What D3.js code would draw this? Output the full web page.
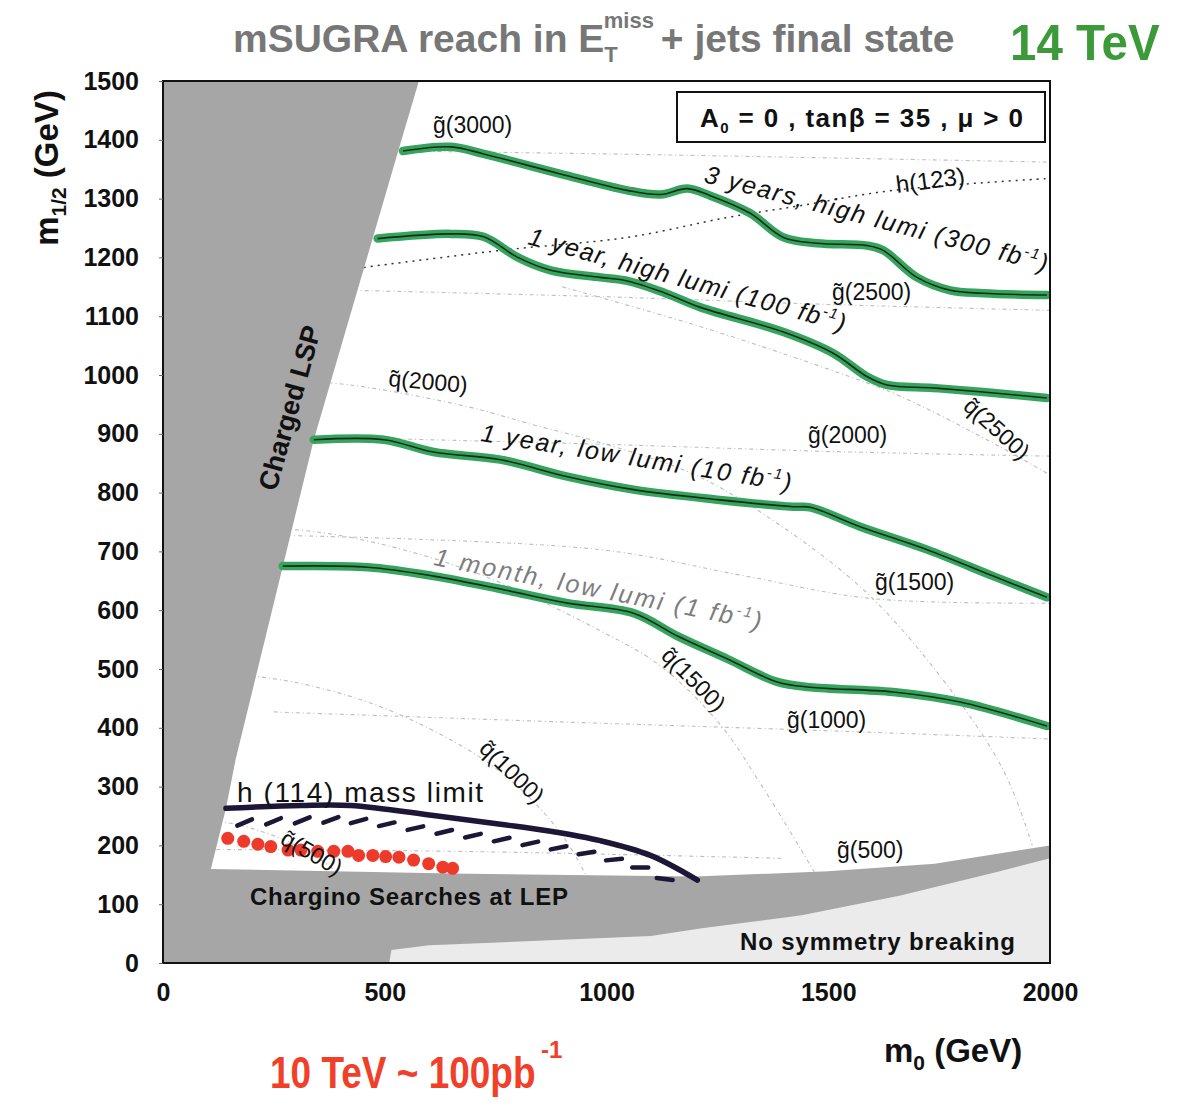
<!DOCTYPE html>
<html>
<head>
<meta charset="utf-8">
<script src="https://cdn.jsdelivr.net/npm/d3@7"></script>
<style>
  body { margin: 0; background: #fff; }
  svg text { font-family: 'Liberation Sans', Arial, Helvetica, sans-serif; }
</style>
</head>
<body>
<svg id="chart" width="1184" height="1105"></svg>
<script>
// mSUGRA reach plot (m0, m1/2), in GeV

const xTickValues = [0, 500, 1000, 1500, 2000];
const yTickValues = [0, 100, 200, 300, 400, 500, 600, 700, 800, 900, 1000, 1100, 1200, 1300, 1400, 1500];

// excluded / special regions
const lspEdge = [[577, 1500], [537, 1398], [340, 890], [164, 347], [142, 263], [108, 160]];
const charginoEdge = [[108, 160], [650, 152], [1200, 147], [1500, 156], [1740, 169], [2000, 200]];
const noEwsbEdge = [[510, 0], [515, 22], [600, 30], [1100, 46], [1215, 59], [1440, 81], [1663, 115], [1887, 156], [2000, 178]];

// 5 sigma reach contours
const reach300 = [[541, 1381], [649, 1388], [723, 1376], [896, 1342], [1047, 1314], [1122, 1307], [1182, 1317], [1234, 1305], [1324, 1275], [1399, 1234], [1475, 1224], [1588, 1220], [1624, 1212], [1700, 1166], [1775, 1144], [1849, 1139], [1993, 1136]];
const reach100 = [[484, 1232], [649, 1240], [723, 1235], [800, 1200], [874, 1178], [986, 1166], [1047, 1160], [1130, 1140], [1212, 1115], [1399, 1073], [1511, 1037], [1588, 997], [1633, 983], [1736, 978], [1849, 971], [1993, 961]];
const reach10 = [[340, 890], [498, 890], [610, 869], [761, 856], [912, 827], [1061, 805], [1250, 788], [1421, 776], [1459, 775], [1572, 742], [1723, 703], [1872, 658], [1993, 622]];
const reach1 = [[270, 675], [462, 673], [610, 658], [761, 636], [912, 612], [1061, 595], [1160, 556], [1273, 517], [1385, 478], [1459, 469], [1646, 461], [1797, 444], [1993, 403]];

// LEP higgs limit and the 10 TeV / 100 pb-1 points
const higgsLimit = [[142, 263], [311, 268], [423, 268], [610, 251], [761, 236], [874, 224], [986, 208], [1099, 183], [1205, 141]];
const reach10TeV = [[146, 212], [182, 207], [214, 202], [243, 198], [282, 192], [311, 192], [349, 190], [385, 190], [417, 190], [441, 183], [473, 183], [502, 181], [532, 180], [565, 175], [599, 169], [631, 163], [653, 161]];

// iso-mass contours
const gluino3000 = [[520, 1381], [1000, 1376], [2000, 1362]];
const gluino2500 = [[430, 1144], [1000, 1133], [1500, 1120], [2000, 1110]];
const gluino2000 = [[330, 895], [1000, 882], [1500, 870], [2000, 862]];
const gluino1500 = [[280, 727], [986, 703], [1300, 660], [1595, 620], [2000, 612]];
const gluino1000 = [[250, 427], [900, 410], [1500, 395], [2000, 381]];
const gluino500 = [[120, 193], [650, 190], [1000, 185], [1400, 178]];
const squark500 = [[100, 245], [200, 229], [300, 200], [400, 150], [450, 109]];
const squark1000 = [[100, 496], [300, 477], [500, 433], [700, 357], [800, 300], [900, 218], [960, 140]];
const squark1500 = [[100, 748], [400, 727], [700, 665], [986, 565], [1122, 505], [1257, 405], [1347, 305], [1437, 195], [1480, 140]];
const squark2000 = [[200, 995], [423, 983], [687, 946], [836, 915], [986, 885], [1200, 830], [1400, 740], [1600, 620], [1800, 440], [1900, 320], [1960, 200]];
const squark2500 = [[900, 1150], [1200, 1085], [1500, 1010], [1662, 964], [1887, 878], [2000, 830]];
const higgs123 = [[453, 1183], [761, 1212], [1047, 1234], [1273, 1268], [1437, 1288], [1646, 1314], [1993, 1334]];

const svg = d3.select('#chart');

const x = d3.scaleLinear().domain([0, 2000]).range([163, 1050]);
const y = d3.scaleLinear().domain([0, 1500]).range([963, 81]);

const poly = d3.line().x(d => x(d[0])).y(d => y(d[1]));
const smooth = d3.line().x(d => x(d[0])).y(d => y(d[1])).curve(d3.curveCatmullRom.alpha(0.5));

const plot = svg.append('g');

// background: everything excluded is dark grey
plot.append('rect')
    .attr('x', x(0)).attr('y', y(1500))
    .attr('width', x(2000) - x(0)).attr('height', y(0) - y(1500))
    .attr('fill', '#a6a6a6');

const allowed = lspEdge.concat(charginoEdge.slice(1), [[2000, 1500]]);
plot.append('path')
    .attr('d', poly(allowed) + 'Z')
    .attr('fill', '#ffffff');

plot.append('path')
    .attr('d', poly(noEwsbEdge.concat([[2000, 0]])) + 'Z')
    .attr('fill', '#ebebeb');

svg.append('defs').append('clipPath')
    .attr('id', 'allowedClip')
    .append('path')
    .attr('d', poly(allowed) + 'Z');

// faint iso-mass lines
const contours = plot.append('g').attr('clip-path', 'url(#allowedClip)');
[gluino3000, gluino2500, gluino2000, gluino1500, gluino1000, gluino500,
 squark500, squark1000, squark1500, squark2000, squark2500].forEach(c => {
    contours.append('path')
        .datum(c)
        .attr('d', smooth)
        .attr('fill', 'none')
        .attr('stroke', '#bdbdbd')
        .attr('stroke-width', 1.1)
        .attr('stroke-dasharray', '4,3,1,3');
});

contours.append('path')
    .datum(higgs123)
    .attr('d', smooth)
    .attr('fill', 'none')
    .attr('stroke', '#333')
    .attr('stroke-width', 1.5)
    .attr('stroke-dasharray', '2,5');

// reach curves: green marker over black line
[reach300, reach100, reach10, reach1].forEach(c => {
    plot.append('path')
        .datum(c)
        .attr('d', smooth)
        .attr('fill', 'none')
        .attr('stroke', '#35a55e')
        .attr('stroke-width', 8.5)
        .attr('stroke-linecap', 'round');
    plot.append('path')
        .datum(c)
        .attr('d', smooth)
        .attr('fill', 'none')
        .attr('stroke', '#1b2a1b')
        .attr('stroke-width', 1.6);
});

// h(114) limit with hatching
const hPath = plot.append('path')
    .datum(higgsLimit)
    .attr('d', smooth)
    .attr('fill', 'none')
    .attr('stroke', '#1d1636')
    .attr('stroke-width', 5.5)
    .attr('stroke-linecap', 'round');

const hNode = hPath.node();
const hLen = hNode.getTotalLength();
d3.range(18, hLen - 12, 29).forEach(l => {
    const p = hNode.getPointAtLength(l);
    const q = hNode.getPointAtLength(l + 1);
    const ang = Math.atan2(q.y - p.y, q.x - p.x);
    const cx = p.x - Math.sin(ang) * 15;
    const cy = p.y + Math.cos(ang) * 15;
    const a2 = ang - 0.36;
    plot.append('line')
        .attr('x1', cx - Math.cos(a2) * 8).attr('y1', cy - Math.sin(a2) * 8)
        .attr('x2', cx + Math.cos(a2) * 8).attr('y2', cy + Math.sin(a2) * 8)
        .attr('stroke', '#1d1636')
        .attr('stroke-width', 4.5)
        .attr('stroke-linecap', 'round');
});

// red points
plot.selectAll('.dot')
    .data(reach10TeV)
    .enter().append('circle')
    .attr('class', 'dot')
    .attr('cx', d => x(d[0]))
    .attr('cy', d => y(d[1]))
    .attr('r', 6.5)
    .attr('fill', '#ee3a2a');

// frame
svg.append('rect')
    .attr('x', x(0)).attr('y', y(1500))
    .attr('width', x(2000) - x(0)).attr('height', y(0) - y(1500))
    .attr('fill', 'none')
    .attr('stroke', '#111')
    .attr('stroke-width', 2);

// axes
const xAxis = svg.append('g')
    .attr('transform', `translate(0,${y(0)})`)
    .call(d3.axisBottom(x).tickValues(xTickValues).tickSize(0).tickPadding(20).tickFormat(d3.format('d')));
const yAxis = svg.append('g')
    .attr('transform', `translate(${x(0)},0)`)
    .call(d3.axisLeft(y).tickValues(yTickValues).tickSize(4).tickPadding(20).tickFormat(d3.format('d')));
[xAxis, yAxis].forEach(a => {
    a.select('.domain').remove();
    a.selectAll('text')
        .attr('font-family', 'Liberation Sans, Arial, sans-serif')
        .attr('font-size', 25)
        .attr('font-weight', 'bold')
        .attr('fill', '#111');
    a.selectAll('line').attr('stroke', '#666');
});

// axis titles
const yTitle = svg.append('text')
    .attr('transform', 'translate(58,168) rotate(-90)')
    .attr('text-anchor', 'middle')
    .attr('font-weight', 'bold')
    .attr('font-size', 33)
    .attr('fill', '#111');
yTitle.append('tspan').text('m');
yTitle.append('tspan').attr('font-size', 21).attr('dy', 8).text('1/2');
yTitle.append('tspan').attr('dy', -8).text('  (GeV)');

const xTitle = svg.append('text')
    .attr('x', 884).attr('y', 1062)
    .attr('font-weight', 'bold')
    .attr('font-size', 33)
    .attr('fill', '#111');
xTitle.append('tspan').text('m');
xTitle.append('tspan').attr('font-size', 21).attr('dy', 8).text('0');
xTitle.append('tspan').attr('dy', -8).text('   (GeV)');

// title
const title = svg.append('text')
    .attr('x', 233).attr('y', 52)
    .attr('font-size', 39)
    .attr('font-weight', 'bold')
    .attr('fill', '#777');
title.append('tspan').text('mSUGRA reach in E');
title.append('tspan').attr('font-size', 22).attr('dy', 10).text('T');
title.append('tspan').attr('font-size', 22).attr('dx', -14).attr('dy', -34).text('miss');
title.append('tspan').attr('dy', 24).attr('dx', -4).text(' + jets final state');

// handwritten notes
svg.append('text')
    .attr('transform', 'translate(1010,60) scale(1.08,1.15)')
    .attr('font-size', 44)
    .attr('font-weight', 'bold')
    .attr('fill', '#3c9a3a')
    .text('14 TeV');

svg.append('text')
    .attr('transform', 'translate(270,1088) scale(1,1.18)')
    .attr('font-size', 37)
    .attr('font-weight', 'bold')
    .attr('fill', '#f0402a')
    .text('10 TeV ~ 100pb');
svg.append('text')
    .attr('x', 541).attr('y', 1058)
    .attr('font-size', 24)
    .attr('font-weight', 'bold')
    .attr('fill', '#f0402a')
    .text('-1');

// parameter box
svg.append('rect')
    .attr('x', 677).attr('y', 92)
    .attr('width', 368).attr('height', 50)
    .attr('fill', '#fff')
    .attr('stroke', '#111')
    .attr('stroke-width', 2);
const box = svg.append('text')
    .attr('x', 700).attr('y', 127)
    .attr('font-size', 26)
    .attr('font-weight', 'bold')
    .attr('fill', '#111')
    .attr('textLength', 323)
    .attr('lengthAdjust', 'spacing');
box.append('tspan').text('A');
box.append('tspan').attr('font-size', 15).attr('dy', 6).text('0');
box.append('tspan').attr('dy', -6).text(' = 0 ,  tanβ = 35 ,  μ > 0');

// region labels
svg.append('text')
    .attr('transform', 'translate(276,492) rotate(-74.5)')
    .attr('font-size', 27)
    .attr('font-weight', 'bold')
    .attr('fill', '#111')
    .text('Charged LSP');

svg.append('text')
    .attr('x', 250).attr('y', 905)
    .attr('font-size', 24)
    .attr('font-weight', 'bold')
    .attr('fill', '#111')
    .attr('textLength', 318)
    .attr('lengthAdjust', 'spacing')
    .text('Chargino Searches at LEP');

svg.append('text')
    .attr('x', 740).attr('y', 950)
    .attr('font-size', 24)
    .attr('font-weight', 'bold')
    .attr('fill', '#111')
    .attr('textLength', 275)
    .attr('lengthAdjust', 'spacing')
    .text('No symmetry breaking');

svg.append('text')
    .attr('x', 237).attr('y', 802)
    .attr('font-size', 28)
    .attr('fill', '#111')
    .attr('textLength', 246)
    .attr('lengthAdjust', 'spacing')
    .text('h (114) mass limit');

// reach curve labels
function reachLabel(txt, x0, y0, angle, len, color) {
    const t = svg.append('text')
        .attr('transform', `translate(${x0},${y0}) rotate(${angle})`)
        .attr('font-size', 25)
        .attr('font-style', 'italic')
        .attr('fill', color)
        .attr('textLength', len)
        .attr('lengthAdjust', 'spacing');
    t.append('tspan').text(txt + ' fb');
    t.append('tspan').attr('font-size', 15).attr('dy', -10).text('-1');
    t.append('tspan').attr('dy', 10).text(')');
}
reachLabel('3 years, high lumi (300', 703, 182, 14.7, 354, '#111');
reachLabel('1 year, high lumi (100', 527, 244, 15.5, 328, '#111');
reachLabel('1 year, low lumi (10', 480, 441, 9.2, 314, '#111');
reachLabel('1 month,  low lumi (1', 433, 565, 11.2, 333, '#7d7d7d');

svg.append('text')
    .attr('transform', 'translate(897,193) rotate(-7.5)')
    .attr('font-size', 24)
    .attr('fill', '#111')
    .text('h(123)');

// mass labels
const massLabels = [
    ['g\u0303(3000)', 433, 133, 0],
    ['g\u0303(2500)', 832, 300, 0],
    ['g\u0303(2000)', 808, 443, 0],
    ['g\u0303(1500)', 875, 590, 0],
    ['g\u0303(1000)', 787, 728, 0],
    ['g\u0303(500)', 837, 858, 0],
    ['q\u0303(2000)', 388, 386, 5],
    ['q\u0303(2500)', 962, 408, 42],
    ['q\u0303(1500)', 660, 657, 45],
    ['q\u0303(1000)', 478, 750, 44],
    ['q\u0303(500)', 279, 843, 30]
];
massLabels.forEach(m => {
    svg.append('text')
        .attr('transform', `translate(${m[1]},${m[2]}) rotate(${m[3]})`)
        .attr('font-size', 23)
        .attr('fill', '#111')
        .text(m[0]);
});
</script>
</body>
</html>
